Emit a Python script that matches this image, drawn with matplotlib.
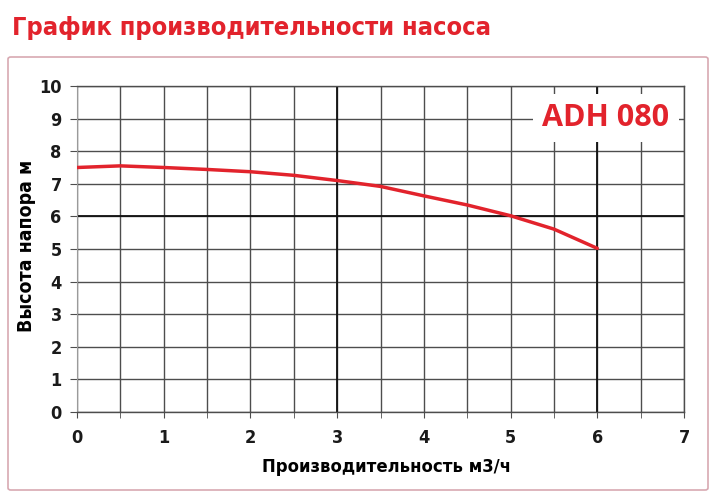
import matplotlib
matplotlib.use("Agg")
import matplotlib.pyplot as plt
from matplotlib.patches import FancyBboxPatch
from matplotlib.ticker import MultipleLocator
from matplotlib.font_manager import FontProperties, findfont

# данные кривой насоса ADH 080
flow = [0, 0.5, 1, 1.5, 2, 2.5, 3, 3.5, 4, 4.5, 5, 5.5, 6]
head = [7.5, 7.55, 7.5, 7.44, 7.37, 7.26, 7.1, 6.92, 6.63, 6.35, 6.02, 5.61, 5.02]
x_ticks = [0, 1, 2, 3, 4, 5, 6, 7]
y_ticks = [0, 1, 2, 3, 4, 5, 6, 7, 8, 9, 10]

RED = "#e2232c"
GRID = "#4d4d4d"


def narrow_font(size):
    # узкий жирный шрифт, если есть
    for fam, stretch in (("Liberation Sans Narrow", "normal"),
                         ("Liberation Sans Narrow", "condensed"),
                         ("DejaVu Sans", "condensed")):
        fp = FontProperties(family=fam, weight="bold", stretch=stretch, size=size)
        try:
            findfont(fp, fallback_to_default=False)
            return fp
        except ValueError:
            continue
    return FontProperties(family="DejaVu Sans", weight="bold", size=size)


def fit_width(txt, target_px, horizontal=True):
    fig.canvas.draw()
    bb = txt.get_window_extent()
    cur = bb.width if horizontal else bb.height
    txt.set_fontsize(txt.get_fontsize() * target_px / cur)


fig = plt.figure(figsize=(7.16, 5.0), dpi=100)

# рамка вокруг графика
frame = FancyBboxPatch((8 / 716, 10 / 500), 700 / 716, 433 / 500,
                       boxstyle="round,pad=0,rounding_size=0.004",
                       transform=fig.transFigure, fill=False,
                       edgecolor="#d8a9b2", linewidth=1.2)
fig.patches.append(frame)

title = fig.text(12 / 716, 1 - 35 / 500, "График производительности насоса",
                 color=RED, fontproperties=narrow_font(22),
                 ha="left", va="baseline")
fit_width(title, 478)

ax = fig.add_axes([77 / 716, 88 / 500, 607 / 716, 326 / 500])
ax.plot(flow, head, color=RED, linewidth=2.5, solid_capstyle="round", zorder=5)

ax.set_xlim(0, 7)
ax.set_ylim(0, 10)
ax.set_xticks(x_ticks)
ax.set_yticks(y_ticks)
ax.xaxis.set_minor_locator(MultipleLocator(0.5))

ax.grid(True, which="both", axis="x", color=GRID, linewidth=1.0)
ax.grid(True, which="major", axis="y", color=GRID, linewidth=1.0)
# более тёмные линии
for xv in (3, 6):
    ax.axvline(xv, color="#111111", linewidth=1.3, zorder=2)
ax.axhline(6, color="#111111", linewidth=1.3, zorder=2)

for side in ("top", "right", "bottom"):
    ax.spines[side].set_color(GRID)
    ax.spines[side].set_linewidth(1.0)
ax.spines["left"].set_color("#9a9a9a")

tick_fp = narrow_font(13)
ax.set_xticklabels([str(v) for v in x_ticks], fontproperties=tick_fp)
ax.set_yticklabels([str(v) for v in y_ticks], fontproperties=tick_fp)
ax.tick_params(axis="both", which="both", direction="out", color=GRID, colors="#1a1a1a")
ax.tick_params(axis="x", which="both", length=4, pad=8)
ax.tick_params(axis="y", length=5, pad=6)

xl = ax.set_xlabel("Производительность м3/ч", fontproperties=narrow_font(15))
yl = ax.set_ylabel("Высота напора м", fontproperties=narrow_font(15))
fit_width(xl, 250)
fit_width(yl, 172, horizontal=False)
xl.set_va("top")
ax.xaxis.set_label_coords(0.51, -0.141)
ax.yaxis.set_label_coords(-0.0675, 0.51)

ax.text(6.1, 9.02, "ADH 080", color=RED, fontsize=22, fontweight="bold",
        family="Open Sans", ha="center", va="center", zorder=6,
        bbox=dict(boxstyle="square,pad=0.3", facecolor="white", edgecolor="none"))

fig.savefig("out.png", dpi=100)
